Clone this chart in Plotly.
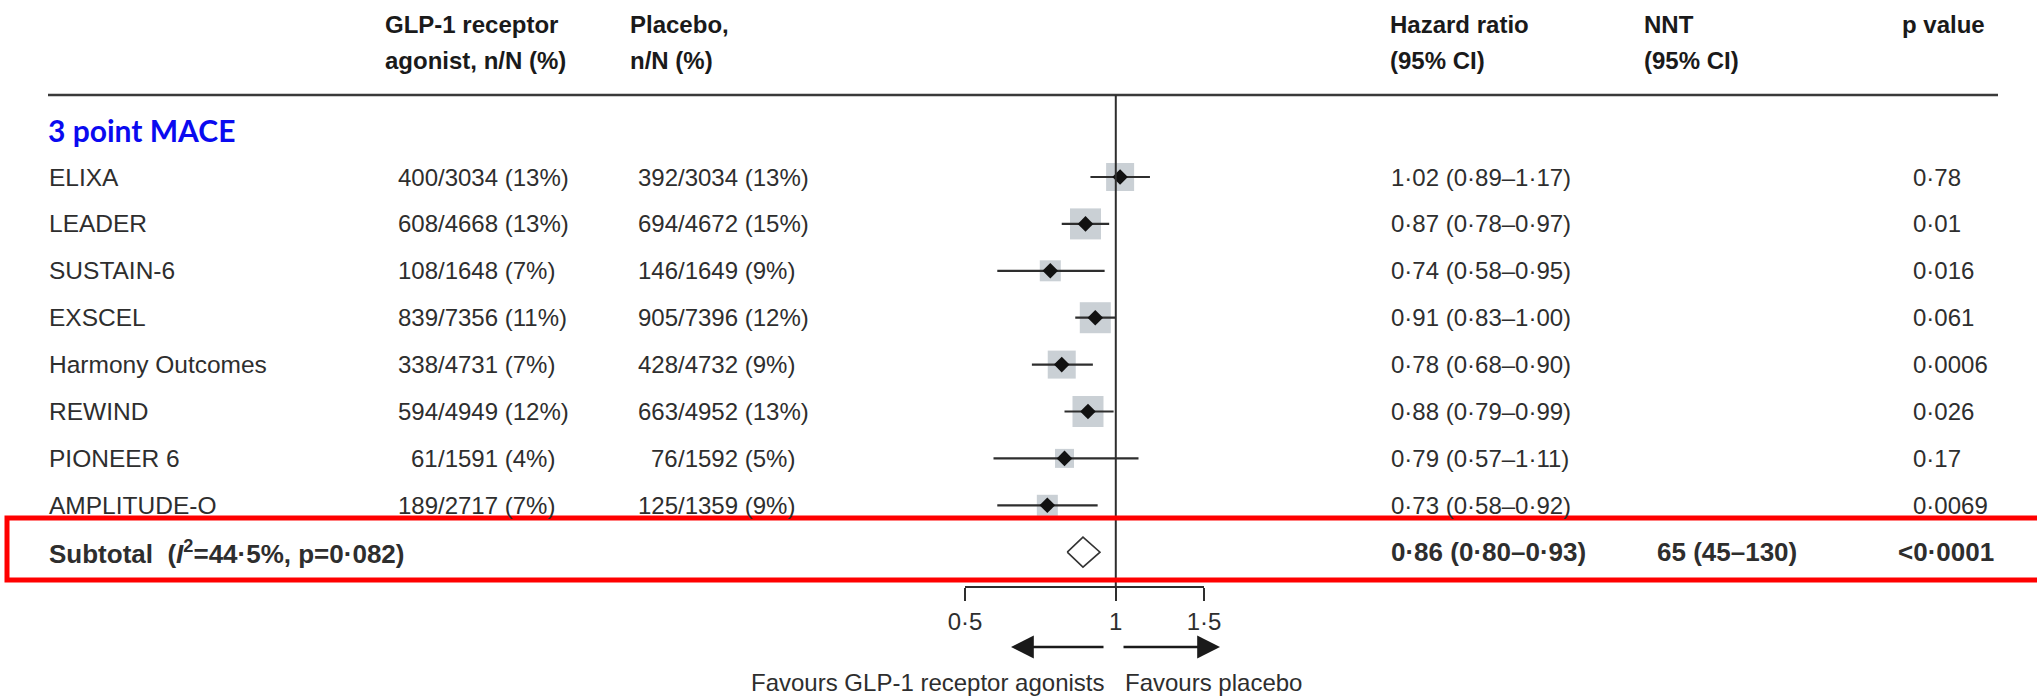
import math
import plotly.graph_objects as go

# ---- data ----
studies = ["ELIXA", "LEADER", "SUSTAIN-6", "EXSCEL", "Harmony Outcomes",
           "REWIND", "PIONEER 6", "AMPLITUDE-O"]
glp_events = ["400", "608", "108", "839", "338", "594", "61", "189"]
glp_rest = ["/3034 (13%)", "/4668 (13%)", "/1648 (7%)", "/7356 (11%)",
            "/4731 (7%)", "/4949 (12%)", "/1591 (4%)", "/2717 (7%)"]
pbo_events = ["392", "694", "146", "905", "428", "663", "76", "125"]
pbo_rest = ["/3034 (13%)", "/4672 (15%)", "/1649 (9%)", "/7396 (12%)",
            "/4732 (9%)", "/4952 (13%)", "/1592 (5%)", "/1359 (9%)"]
hr = [1.02, 0.87, 0.74, 0.91, 0.78, 0.88, 0.79, 0.73]
ci_low = [0.89, 0.78, 0.58, 0.83, 0.68, 0.79, 0.57, 0.58]
ci_high = [1.17, 0.97, 0.95, 1.00, 0.90, 0.99, 1.11, 0.92]
p_values = ["0·78", "0·01", "0·016", "0·061", "0·0006", "0·026", "0·17", "0·0069"]
weights = [28, 31, 21, 31, 28, 31, 19, 21]  # box side, proportional to study weight

subtotal_label = "Subtotal  (<i>I</i><sup>2</sup>=44·5%, p=0·082)"
subtotal_hr, subtotal_low, subtotal_high = 0.86, 0.80, 0.93
subtotal_nnt = "65 (45–130)"
subtotal_p = "<0·0001"

group_title = "3 point MACE"
tick_vals = [0.5, 1, 1.5]
tick_text = ["0·5", "1", "1·5"]

# ---- layout helpers ----
W, H = 2037, 700
ROW0, ROWH = 177.0, 46.9          # pixel centre of first row and row pitch


def px(x):
    return x / W


def py(y):
    return 1 - y / H


FONT = "Liberation Sans, Arial, sans-serif"
TXT = "#2e2e2e"
HDR = "#1a1a1a"
BODY = 24
NAME = 24.5
BOLD = 26


def fmt(v):
    return f"{v:.2f}".replace(".", "·")


hr_text = [f"{fmt(h)} ({fmt(l)}–{fmt(u)})" for h, l, u in zip(hr, ci_low, ci_high)]
subtotal_hr_text = f"{fmt(subtotal_hr)} ({fmt(subtotal_low)}–{fmt(subtotal_high)})"

rows = list(range(len(studies)))
sub_row = len(studies)

fig = go.Figure()

# study weight boxes
fig.add_trace(go.Scatter(
    x=hr, y=rows, mode="markers",
    marker=dict(symbol="square", size=weights, color="#b4bcc3", line=dict(width=0)),
    cliponaxis=False, hoverinfo="skip", showlegend=False))

# confidence intervals
ci_x, ci_y = [], []
for r, lo, hi in zip(rows, ci_low, ci_high):
    ci_x += [lo, hi, None]
    ci_y += [r, r, None]
fig.add_trace(go.Scatter(
    x=ci_x, y=ci_y, mode="lines", line=dict(color="#2e2e2e", width=2.2),
    cliponaxis=False, hoverinfo="skip", showlegend=False))

# point estimates
fig.add_trace(go.Scatter(
    x=hr, y=rows, mode="markers",
    marker=dict(symbol="diamond", size=12, color="#111111", line=dict(width=0)),
    cliponaxis=False, hoverinfo="skip", showlegend=False))

# pooled estimate diamond
dh = 15 / ROWH
fig.add_trace(go.Scatter(
    x=[subtotal_low, subtotal_hr, subtotal_high, subtotal_hr, subtotal_low],
    y=[sub_row, sub_row - dh, sub_row, sub_row + dh, sub_row],
    mode="lines", fill="toself", fillcolor="white",
    line=dict(color="#333333", width=1.6),
    cliponaxis=False, hoverinfo="skip", showlegend=False))

ann = []


def text(x, y, s, anchor="left", size=BODY, color=TXT, bold=False, yref="paper", family=FONT):
    if bold:
        s = f"<b>{s}</b>"
    ann.append(dict(x=x, y=y, xref="paper", yref=yref, text=s, showarrow=False,
                    xanchor=anchor, yanchor="middle", borderpad=0, borderwidth=0,
                    font=dict(family=family, size=size, color=color)))


# column headers
text(px(385), py(25), "GLP-1 receptor", bold=True, color=HDR)
text(px(385), py(60), "agonist, n/N (%)", bold=True, color=HDR)
text(px(630), py(25), "Placebo,", bold=True, color=HDR)
text(px(630), py(60), "n/N (%)", bold=True, color=HDR)
text(px(1390), py(25), "Hazard ratio", bold=True, color=HDR)
text(px(1390), py(60), "(95% CI)", bold=True, color=HDR)
text(px(1644), py(25), "NNT", bold=True, color=HDR)
text(px(1644), py(60), "(95% CI)", bold=True, color=HDR)
text(px(1985), py(25), "p value", anchor="right", bold=True, color=HDR)

# group title
text(px(48), -1, group_title, size=30, color="#0a0af0", bold=True, yref="y",
     family="Lato, Open Sans, sans-serif")

# study rows
for r in rows:
    text(px(49), r, studies[r], size=NAME, yref="y")
    text(px(438), r, glp_events[r], anchor="right", yref="y")
    text(px(438), r, glp_rest[r], yref="y")
    text(px(678), r, pbo_events[r], anchor="right", yref="y")
    text(px(678), r, pbo_rest[r], yref="y")
    text(px(1391), r, hr_text[r], yref="y")
    text(px(1913), r, p_values[r], yref="y")

# subtotal row
text(px(49), sub_row, subtotal_label, size=BOLD, bold=True, yref="y")
text(px(1391), sub_row, subtotal_hr_text, size=BOLD, bold=True, yref="y")
text(px(1657), sub_row, subtotal_nnt, size=BOLD, bold=True, yref="y")
text(px(1898), sub_row, subtotal_p, size=BOLD, bold=True, yref="y")

# direction arrows and captions
ann.append(dict(x=px(1011), y=py(647), xref="paper", yref="paper", ax=94, ay=0,
                text="", showarrow=True, arrowhead=2, arrowsize=1.9, arrowwidth=2.4,
                arrowcolor="#1a1a1a"))
ann.append(dict(x=px(1220), y=py(647), xref="paper", yref="paper", ax=-98, ay=0,
                text="", showarrow=True, arrowhead=2, arrowsize=1.9, arrowwidth=2.4,
                arrowcolor="#1a1a1a"))
text(px(1105), py(682), "Favours GLP-1 receptor agonists", anchor="right")
text(px(1125), py(682), "Favours placebo")

shapes = [
    # header rule
    dict(type="line", xref="paper", yref="paper", x0=px(48), x1=px(1998),
         y0=py(95), y1=py(95), line=dict(color="#3a3a3a", width=2.5)),
    # line of no effect
    dict(type="line", xref="x", yref="paper", x0=1, x1=1, y0=py(95), y1=py(587),
         line=dict(color="#2e2e2e", width=2)),
    # highlight around the pooled row
    dict(type="rect", xref="paper", yref="paper", x0=px(7), x1=px(2050),
         y0=py(518), y1=py(580), line=dict(color="#ff0000", width=5)),
]

top_row = -ROW0 / ROWH
bottom_row = top_row + H / ROWH

fig.update_layout(
    width=W, height=H,
    margin=dict(l=0, r=0, t=0, b=0, pad=0, autoexpand=False),
    paper_bgcolor="white", plot_bgcolor="rgba(0,0,0,0)",
    annotations=ann, shapes=shapes, showlegend=False,
    xaxis=dict(type="log", domain=[px(965), px(1204)],
               range=[math.log10(0.5), math.log10(1.5)],
               anchor="free", position=py(587), automargin=False,
               showline=True, linecolor="#2e2e2e", linewidth=2,
               ticks="outside", ticklen=13, tickwidth=2, tickcolor="#2e2e2e",
               tickvals=tick_vals, ticktext=tick_text,
               tickfont=dict(family=FONT, size=BODY, color=TXT),
               showgrid=False, zeroline=False, fixedrange=True),
    yaxis=dict(range=[bottom_row, top_row], domain=[0, 1], visible=False,
               automargin=False, showgrid=False, zeroline=False, fixedrange=True),
)

fig.write_html("out.html")
